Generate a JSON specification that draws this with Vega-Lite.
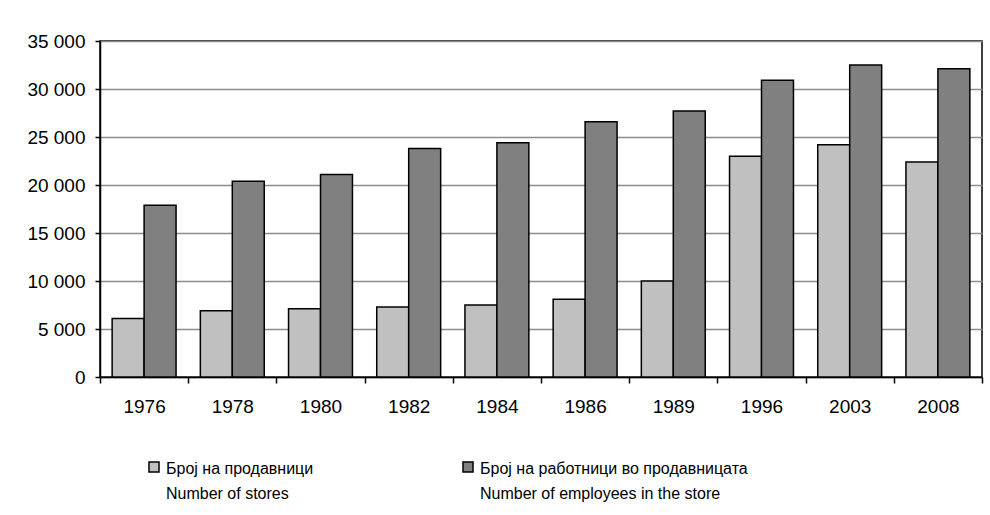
{
  "$schema": "https://vega.github.io/schema/vega-lite/v6.json",
  "width": 882,
  "height": 336,
  "autosize": {"type": "none"},
  "padding": {"left": 100, "top": 41, "right": 8, "bottom": 138},
  "background": "white",
  "data": {
    "values": [
      {"year": "1976", "series": "Број на продавници", "value": 6100},
      {"year": "1978", "series": "Број на продавници", "value": 6900},
      {"year": "1980", "series": "Број на продавници", "value": 7100},
      {"year": "1982", "series": "Број на продавници", "value": 7300},
      {"year": "1984", "series": "Број на продавници", "value": 7500},
      {"year": "1986", "series": "Број на продавници", "value": 8100},
      {"year": "1989", "series": "Број на продавници", "value": 10000},
      {"year": "1996", "series": "Број на продавници", "value": 23000},
      {"year": "2003", "series": "Број на продавници", "value": 24200},
      {"year": "2008", "series": "Број на продавници", "value": 22400},
      {"year": "1976", "series": "Број на работници во продавницата", "value": 17900},
      {"year": "1978", "series": "Број на работници во продавницата", "value": 20400},
      {"year": "1980", "series": "Број на работници во продавницата", "value": 21100},
      {"year": "1982", "series": "Број на работници во продавницата", "value": 23800},
      {"year": "1984", "series": "Број на работници во продавницата", "value": 24400},
      {"year": "1986", "series": "Број на работници во продавницата", "value": 26600},
      {"year": "1989", "series": "Број на работници во продавницата", "value": 27700},
      {"year": "1996", "series": "Број на работници во продавницата", "value": 30900},
      {"year": "2003", "series": "Број на работници во продавницата", "value": 32500},
      {"year": "2008", "series": "Број на работници во продавницата", "value": 32100}
    ]
  },
  "mark": {"type": "bar", "stroke": "black", "strokeWidth": 1.5},
  "encoding": {
    "x": {
      "field": "year",
      "type": "nominal",
      "sort": null,
      "scale": {"paddingInner": 0, "paddingOuter": 0},
      "axis": {
        "title": null,
        "labelAngle": 0,
        "tickBand": "extent",
        "tickSize": 6,
        "tickColor": "black",
        "tickWidth": 1.5,
        "domainColor": "black",
        "domainWidth": 1.5,
        "labelPadding": 20,
        "labelFontSize": 19,
        "labelColor": "black",
        "grid": false
      }
    },
    "xOffset": {
      "field": "series",
      "type": "nominal",
      "sort": ["Број на продавници", "Број на работници во продавницата"],
      "scale": {"paddingInner": 0, "paddingOuter": 0.38}
    },
    "y": {
      "field": "value",
      "type": "quantitative",
      "scale": {"domain": [0, 35000], "nice": false},
      "axis": {
        "title": null,
        "values": [0, 5000, 10000, 15000, 20000, 25000, 30000, 35000],
        "labelExpr": "replace(format(datum.value, ','), ',', ' ')",
        "tickSize": 5,
        "tickColor": "black",
        "tickWidth": 1.5,
        "domainColor": "black",
        "domainWidth": 1.5,
        "labelPadding": 10,
        "labelOffset": 6,
        "labelFontSize": 19,
        "labelColor": "black",
        "grid": true,
        "gridColor": "#8c8c8c",
        "gridWidth": 1.5
      }
    },
    "color": {
      "field": "series",
      "type": "nominal",
      "scale": {
        "domain": ["Број на продавници", "Број на работници во продавницата"],
        "range": ["#c0c0c0", "#808080"]
      },
      "legend": {
        "title": null,
        "orient": "none",
        "direction": "horizontal",
        "legendX": 46,
        "legendY": 418,
        "symbolType": "square",
        "symbolSize": 100,
        "symbolStrokeColor": "black",
        "symbolStrokeWidth": 1.5,
        "symbolOpacity": 1,
        "labelFontSize": 16,
        "labelColor": "black",
        "labelLimit": 400,
        "labelOffset": 4,
        "labelBaseline": "top",
        "columnPadding": 146,
        "labelExpr": "datum.label == 'Број на продавници' ? ['Број на продавници', '\u00a0Number of stores'] : ['Број на работници во продавницата', 'Number of employees in the store']"
      }
    }
  },
  "config": {
    "font": "Liberation Sans",
    "view": {"stroke": "black", "strokeWidth": 1.5},
    "style": {"guide-label": {"lineHeight": 25, "dy": -6}}
  }
}
